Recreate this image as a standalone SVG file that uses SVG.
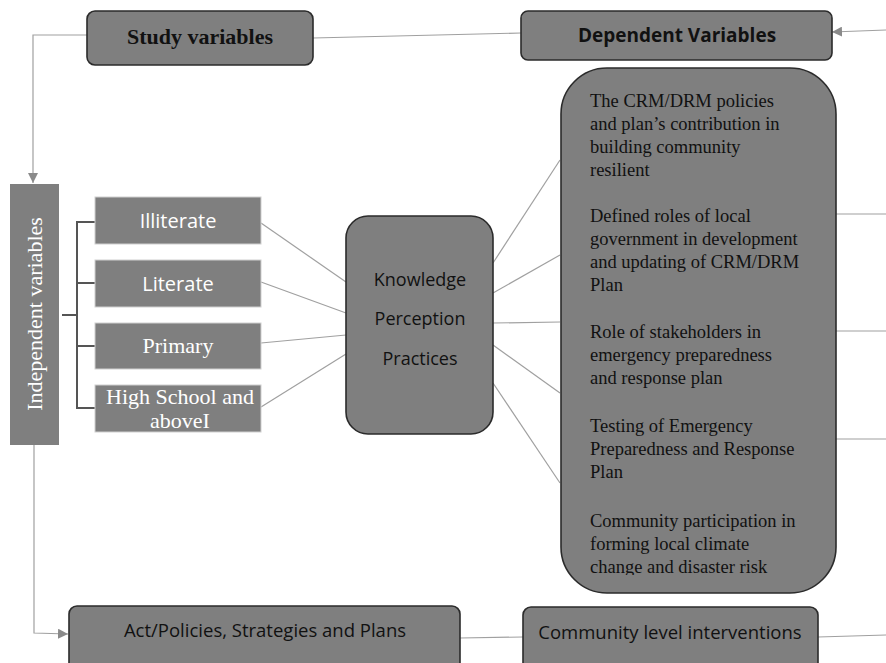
<svg xmlns="http://www.w3.org/2000/svg" width="886" height="663" viewBox="0 0 886 663">
<style>
.rbox{fill:#7f7f7f;stroke:#2b2b2b;stroke-width:1.6}
.flat{fill:#7f7f7f;stroke:#d0d0d0;stroke-width:1}
.conn{stroke:#a0a0a0;stroke-width:1.2;fill:none}
.brk{stroke:#555;stroke-width:2;fill:none}
.serif{font-family:"Liberation Serif","Times New Roman",serif}
.sans{font-family:"Open Sans","Liberation Sans",sans-serif}
.wt{fill:#ffffff}
.bk{fill:#111111}
</style>
<defs>
<marker id="arr" viewBox="0 0 10 10" refX="10" refY="5" markerWidth="10" markerHeight="10" markerUnits="userSpaceOnUse" orient="auto">
<path d="M0,0 L10,5 L0,10 z" fill="#8a8a8a"/>
</marker>
<clipPath id="clipBig"><rect x="561" y="68" width="275" height="507"/></clipPath>
</defs>

<g id="connectors">
<polyline class="conn" points="87,35 33,35 33,183" marker-end="url(#arr)"/>
<line class="conn" x1="313" y1="38" x2="521" y2="33"/>
<line class="conn" x1="886" y1="30" x2="832" y2="32" marker-end="url(#arr)"/>
<polyline class="conn" points="34,445 34,633 68,634" marker-end="url(#arr)"/>
<line class="conn" x1="460" y1="638" x2="523" y2="637"/>
<line class="conn" x1="818" y1="637" x2="886" y2="635"/>
<line class="conn" x1="261" y1="223" x2="346" y2="282"/>
<line class="conn" x1="261" y1="282" x2="346" y2="313"/>
<line class="conn" x1="261" y1="343" x2="346" y2="335"/>
<line class="conn" x1="261" y1="407" x2="346" y2="354"/>
<line class="conn" x1="493" y1="263" x2="560" y2="160"/>
<line class="conn" x1="493" y1="293" x2="560" y2="255"/>
<line class="conn" x1="493" y1="323" x2="560" y2="322"/>
<line class="conn" x1="493" y1="345" x2="560" y2="393"/>
<line class="conn" x1="493" y1="383" x2="560" y2="483"/>
<line class="conn" x1="836" y1="214" x2="886" y2="214"/>
<line class="conn" x1="836" y1="331" x2="886" y2="331"/>
<line class="conn" x1="836" y1="439" x2="886" y2="439"/>
<polyline class="brk" points="95,222 77,222 77,408 95,408"/>
<line class="brk" x1="77" y1="283" x2="95" y2="283"/>
<line class="brk" x1="77" y1="346" x2="95" y2="346"/>
<line class="brk" x1="62" y1="315" x2="77" y2="315"/>
</g>

<g id="study-variables">
<rect class="rbox" x="87" y="11" width="226" height="54" rx="8"/>
<text class="serif bk" x="200" y="44" font-size="22" font-weight="bold" text-anchor="middle">Study variables</text>
</g>

<g id="dependent-variables">
<rect class="rbox" x="521" y="11" width="311" height="49" rx="7"/>
<text class="sans bk" x="677" y="42" font-size="19" font-weight="bold" text-anchor="middle">Dependent Variables</text>
</g>

<g id="independent-variables">
<rect x="10" y="184" width="49" height="261" fill="#7f7f7f"/>
<text class="serif wt" transform="translate(42,314) rotate(-90)" font-size="22" text-anchor="middle">Independent variables</text>
</g>

<g id="illiterate">
<rect class="flat" x="95" y="197" width="166" height="47"/>
<text class="sans wt" x="178" y="228" font-size="20" text-anchor="middle">Illiterate</text>
</g>
<g id="literate">
<rect class="flat" x="95" y="260" width="166" height="47"/>
<text class="sans wt" x="178" y="291" font-size="20" text-anchor="middle">Literate</text>
</g>
<g id="primary">
<rect class="flat" x="95" y="323" width="166" height="46"/>
<text class="serif wt" x="178" y="353" font-size="22" text-anchor="middle">Primary</text>
</g>
<g id="high-school">
<rect class="flat" x="95" y="385" width="166" height="47"/>
<text class="serif wt" x="180" y="404" font-size="22" text-anchor="middle">High School and</text>
<text class="serif wt" x="180" y="428" font-size="22" text-anchor="middle">aboveI</text>
</g>

<g id="kpp">
<rect class="rbox" x="346" y="216" width="147" height="218" rx="22"/>
<text class="sans bk" x="420" y="286" font-size="18" text-anchor="middle">Knowledge</text>
<text class="sans bk" x="420" y="325" font-size="18" text-anchor="middle">Perception</text>
<text class="sans bk" x="420" y="365" font-size="18" text-anchor="middle">Practices</text>
</g>

<g id="dependent-list">
<rect class="rbox" x="561" y="68" width="275" height="525" rx="46" stroke-width="2"/>
<g class="serif bk" font-size="18.5" clip-path="url(#clipBig)">
<text x="590" y="107">The CRM/DRM policies</text>
<text x="590" y="130">and plan’s contribution in</text>
<text x="590" y="153">building community</text>
<text x="590" y="176">resilient</text>
<text x="590" y="222">Defined roles of local</text>
<text x="590" y="245">government in development</text>
<text x="590" y="268">and updating of CRM/DRM</text>
<text x="590" y="291">Plan</text>
<text x="590" y="338">Role of stakeholders in</text>
<text x="590" y="361">emergency preparedness</text>
<text x="590" y="384">and response plan</text>
<text x="590" y="432">Testing of Emergency</text>
<text x="590" y="455">Preparedness and Response</text>
<text x="590" y="478">Plan</text>
<text x="590" y="527">Community participation in</text>
<text x="590" y="550">forming local climate</text>
<text x="590" y="573">change and disaster risk</text>
</g>
</g>

<g id="act-policies">
<rect class="rbox" x="69" y="606" width="391" height="70" rx="8"/>
<text class="sans bk" x="265" y="637" font-size="18.5" text-anchor="middle">Act/Policies, Strategies and Plans</text>
</g>

<g id="community-interventions">
<rect class="rbox" x="523" y="607" width="295" height="70" rx="8"/>
<text class="sans bk" x="670" y="639" font-size="18.5" text-anchor="middle">Community level interventions</text>
</g>
</svg>
